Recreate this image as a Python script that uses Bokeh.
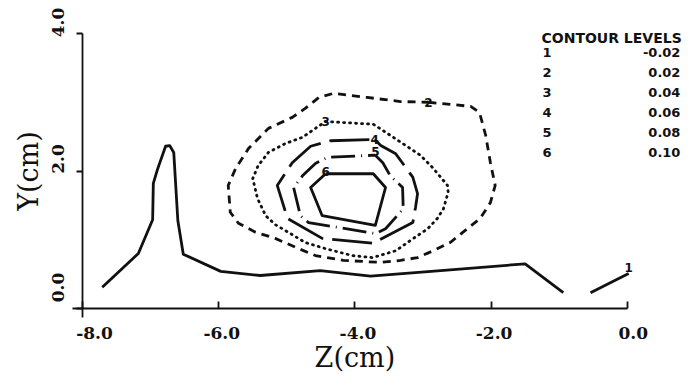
import math
from bokeh.plotting import figure
from bokeh.models import Range1d, FixedTicker, ColumnDataSource
from bokeh.core.properties import value
from bokeh.embed import file_html
from bokeh.resources import INLINE

NAN = float("nan")

# ---- data ----
X_TICKS = [-8, -6, -4, -2, 0]
X_TICK_LABELS = ["-8.0", "-6.0", "-4.0", "-2.0", "0.0"]
Y_TICKS = [0, 2, 4]
Y_TICK_LABELS = ["0.0", "2.0", "4.0"]
X_TITLE = "Z(cm)"
Y_TITLE = "Y(cm)"

LEVEL_IDS = ["1", "2", "3", "4", "5", "6"]
LEVELS = [-0.02, 0.02, 0.04, 0.06, 0.08, 0.10]

c1_z = [-7.71, -7.18, -6.97, -6.96, -6.90, -6.78, -6.72, -6.66, -6.60, -6.52, -5.97, -5.39,
        -4.51, -3.77, -2.74, -1.50, -0.94, NAN, -0.54, 0.02]
c1_y = [0.31, 0.80, 1.29, 1.82, 2.02, 2.36, 2.37, 2.27, 1.28, 0.79, 0.54, 0.48,
        0.55, 0.47, 0.55, 0.65, 0.23, NAN, 0.23, 0.51]

c2_z = [-2.92, -2.30, -2.17, -2.08, -2.01, -1.94, -2.01, -2.16, -2.35, -2.60, -2.85, -3.08,
        -3.33, -3.62, -4.17, -4.58, -4.87, -5.17, -5.46, -5.71, -5.83, -5.86, -5.75, -5.56,
        -5.27, -4.92, -4.73, -4.53, -4.31, -3.82, -3.33, -2.92]
c2_y = [3.00, 2.94, 2.85, 2.52, 2.12, 1.79, 1.54, 1.31, 1.16, 0.96, 0.84, 0.74,
        0.70, 0.67, 0.70, 0.77, 0.89, 1.02, 1.11, 1.24, 1.40, 1.79, 2.04, 2.33,
        2.62, 2.78, 2.91, 3.07, 3.13, 3.07, 3.01, 3.00]

c3_z = [-4.43, -3.73, -3.59, -3.36, -3.04, -2.85, -2.64, -2.63, -2.70, -2.79, -2.93, -3.14,
        -3.40, -3.74, -4.04, -4.43, -4.73, -4.98, -5.17, -5.31, -5.43, -5.50, -5.42, -5.27,
        -5.02, -4.77, -4.58, -4.43]
c3_y = [2.72, 2.68, 2.59, 2.44, 2.23, 2.04, 1.79, 1.69, 1.45, 1.31, 1.16, 1.02,
        0.84, 0.74, 0.77, 0.87, 0.96, 1.11, 1.22, 1.35, 1.60, 1.89, 2.08, 2.27,
        2.40, 2.49, 2.62, 2.72]

c4_z = [-3.71, -3.62, -3.40, -3.15, -3.08, -3.11, -3.15, -3.73, -4.48, -4.99, -5.14, -4.92,
        -4.65, -4.36, -3.71]
c4_y = [2.46, 2.37, 2.25, 1.91, 1.67, 1.47, 1.25, 0.95, 1.02, 1.31, 1.79, 2.12,
        2.36, 2.44, 2.46]

c5_z = [-3.70, -3.59, -3.48, -3.30, -3.29, -3.55, -3.70, -4.68, -4.80, -4.90, -4.77, -4.58,
        -4.40, -3.70]
c5_y = [2.23, 2.12, 1.93, 1.76, 1.45, 1.16, 1.09, 1.25, 1.35, 1.76, 1.93, 2.11,
        2.20, 2.23]

c6_z = [-4.43, -3.73, -3.55, -3.70, -4.48, -4.65, -4.43]
c6_y = [1.96, 1.96, 1.76, 1.21, 1.35, 1.76, 1.96]

CONTOURS = [(c1_z, c1_y), (c2_z, c2_y), (c3_z, c3_y), (c4_z, c4_y), (c5_z, c5_y), (c6_z, c6_y)]

# ---- styles / layout ----
DASHES = ["solid", "8 6", "1 5", "40 9", "24 6 1 6", "solid"]
LABEL_VERTEX = [-1, 0, 0, 0, 0, 0]
LABEL_YOFF = [-6, 0, 0, 0, -4, -2]
XLAB_SHIFT_PX = [12, 3, 3, 3, 6]
YLAB_SHIFT_PX = [21, 12, 11]
INK = "#111111"
PX_X = 68.1   # pixels per unit in z
PX_Y = 68.75  # pixels per unit in y
W, H = 689, 378
LEFT = 6      # left panel (y-axis ticks)
ORIGIN_X, ORIGIN_Y = 82, 308   # page position of (z=-8, y=0)
TOP_Y4 = 33                    # page position of y=4

x0 = -8 - (ORIGIN_X - LEFT) / PX_X
y1 = 4 + TOP_Y4 / PX_Y
p = figure(width=W, height=H, output_backend="svg", toolbar_location=None,
           x_range=Range1d(x0, x0 + (W - LEFT) / PX_X),
           y_range=Range1d(y1 - H / PX_Y, y1),
           min_border_left=LEFT, min_border_right=0, min_border_top=0, min_border_bottom=0)
p.outline_line_color = None
p.xgrid.visible = False
p.ygrid.visible = False
p.background_fill_color = "white"
p.border_fill_color = "white"

for (zs, ys), dash in zip(CONTOURS, DASHES):
    p.line(zs, ys, line_color=INK, line_width=2.8, line_dash=dash,
           line_cap="round" if dash == "1 5" else "butt", line_join="round")

# contour number labels
lab_z, lab_y = [], []
for (zs, ys), idx in zip(CONTOURS, LABEL_VERTEX):
    clean = [(a, b) for a, b in zip(zs, ys) if not math.isnan(a)]
    lab_z.append(clean[idx][0])
    lab_y.append(clean[idx][1])
lsrc = ColumnDataSource(dict(x=lab_z, y=lab_y, t=LEVEL_IDS, yo=LABEL_YOFF))
p.text(x="x", y="y", text="t", y_offset="yo", source=lsrc, text_align="center", text_baseline="middle",
       text_font=value("DejaVu Sans"), text_font_style="bold", text_font_size="12px", text_color=INK)

# contour-level legend table
p.text(x=[-1.26], y=[3.93], text=["CONTOUR LEVELS"], text_align="left", text_baseline="middle",
       text_font=value("DejaVu Sans"), text_font_style="bold", text_font_size="14px", text_color=INK)
row_y = [3.72 - 0.29 * i for i in range(len(LEVELS))]
p.text(x=[-1.18] * len(LEVELS), y=row_y, text=LEVEL_IDS, text_align="center", text_baseline="middle",
       text_font=value("DejaVu Sans"), text_font_style="bold", text_font_size="13px", text_color=INK)
p.text(x=[0.78] * len(LEVELS), y=row_y, text=["%.2f" % v for v in LEVELS], text_align="right",
       text_baseline="middle", text_font=value("DejaVu Sans"), text_font_style="bold",
       text_font_size="13px", text_color=INK)

# axes (lines and ticks), pinned at z=-8 and y=0
xa = p.xaxis[0]
xa.fixed_location = 0
xa.bounds = (-8 - 10 / PX_X, 0)
xa.ticker = FixedTicker(ticks=X_TICKS)
xa.minor_tick_line_color = None
xa.major_tick_in = 7
xa.major_tick_out = 0
xa.axis_line_width = 1.8
xa.major_tick_line_width = 1.8
xa.axis_line_color = INK
xa.major_tick_line_color = INK
xa.major_label_text_font_size = "0px"
xa.major_label_text_color = None
xa.major_label_standoff = 0

ya = p.yaxis[0]
ya.fixed_location = -8
ya.bounds = (-9 / PX_Y, 4)
ya.ticker = FixedTicker(ticks=Y_TICKS)
ya.minor_tick_line_color = None
ya.major_tick_in = 0
ya.major_tick_out = 6
ya.axis_line_width = 1.8
ya.major_tick_line_width = 1.8
ya.axis_line_color = INK
ya.major_tick_line_color = INK
ya.major_label_text_font_size = "0px"
ya.major_label_text_color = None
ya.major_label_standoff = 0

# tick labels
p.text(x=[t + s / PX_X for t, s in zip(X_TICKS, XLAB_SHIFT_PX)], y=[-24 / PX_Y] * len(X_TICKS),
       text=X_TICK_LABELS, text_align="center", text_baseline="middle",
       text_font=value("DejaVu Serif"), text_font_style="bold", text_font_size="17px", text_color=INK)
p.text(x=[-8 - 25 / PX_X] * len(Y_TICKS), y=[t + s / PX_Y for t, s in zip(Y_TICKS, YLAB_SHIFT_PX)],
       text=Y_TICK_LABELS, angle=math.pi / 2, text_align="center", text_baseline="middle",
       text_font=value("DejaVu Serif"), text_font_style="bold", text_font_size="17px", text_color=INK)

# axis titles
p.text(x=[-4.0], y=[-49 / PX_Y], text=[X_TITLE], text_align="center", text_baseline="middle",
       text_font=value("DejaVu Serif"), text_font_size="27px", text_color=INK)
p.text(x=[-8 - 54 / PX_X], y=[2.0], text=[Y_TITLE], angle=math.pi / 2, text_align="center",
       text_baseline="middle", text_font=value("DejaVu Serif"), text_font_size="27px", text_color=INK)

open("out.html", "w").write(file_html(p, INLINE))
